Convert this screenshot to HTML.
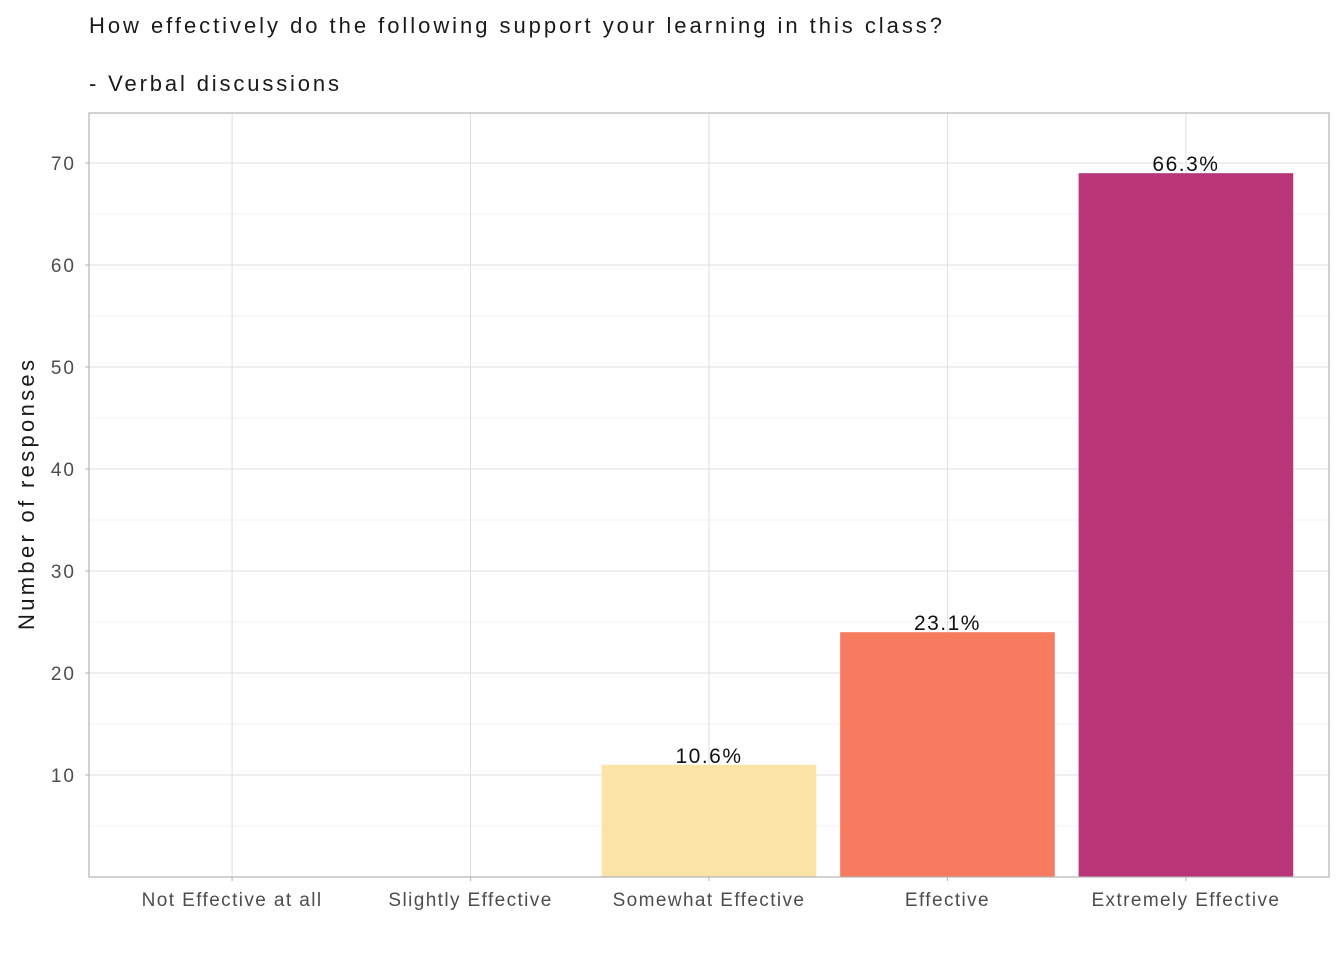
<!DOCTYPE html>
<html><head><meta charset="utf-8"><style>
body{margin:0;background:#fff;font-family:"Liberation Sans",sans-serif;}
svg text{font-family:"Liberation Sans",sans-serif;}
</style></head><body>
<svg id="chart" width="1344" height="960">
<text x="89" y="33" font-size="22" fill="#1a1a1a" textLength="853" lengthAdjust="spacing">How effectively do the following support your learning in this class?</text>
<text x="89" y="91" font-size="22" fill="#1a1a1a" textLength="250" lengthAdjust="spacing">- Verbal discussions</text>
<text transform="translate(34,495) rotate(-90)" text-anchor="middle" font-size="22" fill="#1a1a1a" textLength="270" lengthAdjust="spacing">Number of responses</text>
<g id="grid"></g><g id="bars"></g><g id="labels"></g><g id="axes"></g>
<rect x="89" y="113" width="1240" height="764" fill="none" stroke="#b3b3b3" stroke-width="1.2"/>
</svg>
<script>
const categories=["Not Effective at all","Slightly Effective","Somewhat Effective","Effective","Extremely Effective"];
const counts=[0,0,11,24,69];
const colors=["#fde9b0","#fde9b0","#fce4a8","#f77b5f","#b83578"];
const yTicks=[10,20,30,40,50,60,70];
const yMinor=[5,15,25,35,45,55,65];
const ns="http://www.w3.org/2000/svg";
const L=89,R=1329,T=113,B=877,yMax=74.9;
const y=v=>B-(v/yMax)*(B-T);
const step=(R-L)/(categories.length+0.2);
const x=i=>L+(0.6+i)*step;
const total=counts.reduce((a,b)=>a+b,0);
function mk(t,a,p){const e=document.createElementNS(ns,t);for(const k in a)e.setAttribute(k,a[k]);p.appendChild(e);return e;}
const g=document.getElementById('grid'),bg=document.getElementById('bars'),lg=document.getElementById('labels'),ag=document.getElementById('axes');
yMinor.forEach(v=>{const l=mk('line',{x1:L,x2:R,y1:y(v),y2:y(v),stroke:'#ebebeb','stroke-width':0.8},g);

});
yTicks.forEach(v=>{const l=mk('line',{x1:L,x2:R,y1:y(v),y2:y(v),stroke:'#dedede','stroke-width':1},g);


const t=mk('text',{x:L-13,y:y(v)+7,'text-anchor':'end','font-size':19,fill:'#4d4d4d','letter-spacing':2},ag);t.textContent=v;


mk('line',{x1:L-4,x2:L,y1:y(v),y2:y(v),stroke:'#b3b3b3'},ag);});
categories.forEach((c,i)=>{const l=mk('line',{x1:x(i),x2:x(i),y1:T,y2:B,stroke:'#dedede','stroke-width':1},g);


mk('line',{x1:x(i),x2:x(i),y1:B,y2:B+4,stroke:'#b3b3b3'},ag);
const t=mk('text',{x:x(i),y:B+29,'text-anchor':'middle','font-size':19,fill:'#4d4d4d','letter-spacing':1.4},ag);t.textContent=c;


if(counts[i]>0){const w=step*0.9;
const r=mk('rect',{x:x(i)-w/2,y:y(counts[i]),width:w,height:B-y(counts[i]),fill:colors[i]},bg);


const p=mk('text',{x:x(i),y:y(counts[i])-2,'text-anchor':'middle','font-size':21,fill:'#111','letter-spacing':1.5},lg);
p.textContent=(counts[i]/total*100).toFixed(1)+'%';

}});
</script>
</body></html>
